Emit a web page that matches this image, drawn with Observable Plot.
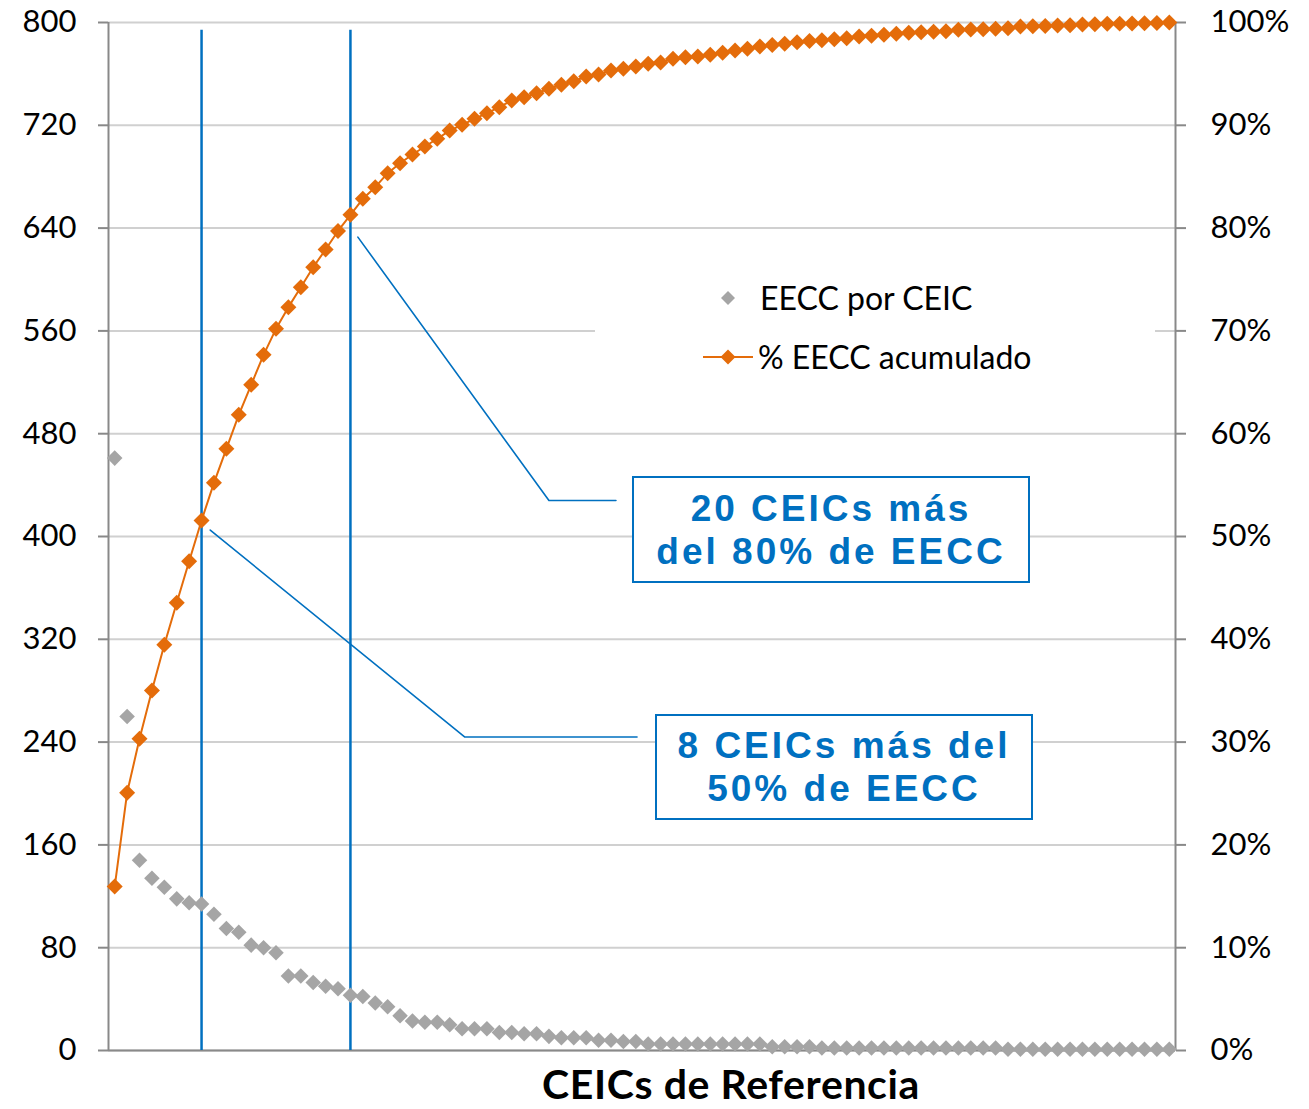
<!DOCTYPE html>
<html><head><meta charset="utf-8">
<script src="https://cdn.jsdelivr.net/npm/d3@7"></script>
<script src="https://cdn.jsdelivr.net/npm/@observablehq/plot@0.6"></script>
<style>
body{margin:0;background:#fff;}
#wrap{position:relative;width:1309px;height:1109px;font-family:Lato,"Open Sans",sans-serif;overflow:hidden;}
#wrap svg{position:absolute;left:0;top:0;}
.box{position:absolute;border:2px solid #0070c0;background:#fff;color:#0070c0;font-family:"Liberation Sans",Arial,sans-serif;font-weight:bold;font-size:37px;letter-spacing:3px;text-align:center;line-height:43px;box-sizing:border-box;display:flex;flex-direction:column;align-items:center;justify-content:center;}
#legend{position:absolute;left:595px;top:262px;width:560px;height:130px;background:#fff;}
.lg{position:absolute;font-size:32px;color:#000;line-height:36px;white-space:nowrap;}
#xtitle{position:absolute;left:281px;width:900px;top:1059px;text-align:center;font-weight:bold;font-size:41px;line-height:49px;letter-spacing:0.6px;color:#000;}
</style></head>
<body><div id="wrap"></div>
<script>
// Categories: CEIC rank 1..86
const ceic = [1,2,3,4,5,6,7,8,9,10,11,12,13,14,15,16,17,18,19,20,21,22,23,24,25,26,27,28,29,30,
  31,32,33,34,35,36,37,38,39,40,41,42,43,44,45,46,47,48,49,50,51,52,53,54,55,56,57,58,59,60,
  61,62,63,64,65,66,67,68,69,70,71,72,73,74,75,76,77,78,79,80,81,82,83,84,85,86];
// EECC por CEIC (left axis)
const eeccPorCeic = [461,260,148,134,127,118,115,114,106,95,
  92,82,80,76,58,58,53,50,48,43,
  42,37,34,27,23,22,22,20,17,17,
  17,14,14,13,13,11,10,10,10,8,
  8,7,7,5,5,5,5,5,5,5,
  5,5,5,3,3,3,3,2,2,2,
  2,2,2,2,2,2,2,2,2,2,
  2,2,1,1,1,1,1,1,1,1,
  1,1,1,1,1,1];
// % EECC acumulado (right axis, percent)
const pctAcumulado = [15.95,25.07,30.32,35.02,39.46,43.55,47.60,51.56,55.22,58.53,
  61.84,64.76,67.67,70.20,72.31,74.25,76.20,77.92,79.72,81.29,
  82.85,83.98,85.34,86.31,87.16,87.94,88.69,89.49,90.05,90.63,
  91.18,91.76,92.41,92.73,93.12,93.55,93.94,94.29,94.75,94.95,
  95.33,95.50,95.72,95.98,96.12,96.47,96.62,96.70,96.86,97.05,
  97.28,97.44,97.67,97.81,97.93,98.09,98.20,98.28,98.36,98.47,
  98.64,98.72,98.80,98.90,99.00,99.06,99.10,99.15,99.29,99.32,
  99.35,99.39,99.45,99.61,99.63,99.66,99.71,99.74,99.81,99.83,
  99.87,99.89,99.91,99.93,99.96,100];
const leftTicks = [0,80,160,240,320,400,480,560,640,720,800];
const rightTickLabels = ["0%","10%","20%","30%","40%","50%","60%","70%","80%","90%","100%"];
const markerCeics = [8, 20];
const legendLabels = ["EECC por CEIC", "% EECC acumulado"];
const note1 = ["20 CEICs más", "del 80% de EECC"];
const note2 = ["8 CEICs más del", "50% de EECC"];
const xTitle = "CEICs de Referencia";
// callout leader lines (data space: CEIC, left-axis value)
const leader1 = [{c:20.6,v:633},{c:36.0,v:428},{c:41.4,v:428}];
const leader2 = [{c:8.7,v:405},{c:29.2,v:244},{c:43.1,v:244}];

const grey = "#a5a5a5", orange = "#e46c0a", blue = "#0070c0", axisGrey = "#898989";
const rows = ceic.map((c,i)=>({c, n: eeccPorCeic[i], p: pctAcumulado[i]*8}));

const chart = Plot.plot({
  width: 1309, height: 1109,
  marginLeft: 108, marginRight: 134, marginTop: 22, marginBottom: 59,
  x: {type: "linear", domain: [0.5, 86.5], axis: null},
  y: {domain: [0, 800], axis: null},
  style: {fontFamily: "Lato, 'Open Sans', sans-serif", fontSize: "31px", color: "#000", background: "#fff", overflow: "visible"},
  marks: [
    Plot.gridY(leftTicks, {stroke: "#d0d0d0", strokeOpacity: 1, strokeWidth: 2}),
    Plot.axisY(leftTicks, {anchor: "left", tickSize: 10, tickPadding: 22, stroke: axisGrey, strokeWidth: 2, fill: "#000", fontSize: 31, label: null, tickFormat: d => String(d)}),
    Plot.axisY(leftTicks, {anchor: "right", tickSize: 10, tickPadding: 25, stroke: axisGrey, strokeWidth: 2, fill: "#000", fontSize: 31, label: null, tickFormat: d => rightTickLabels[leftTicks.indexOf(d)]}),
    Plot.ruleX([0.5, 86.5], {stroke: axisGrey, strokeWidth: 2}),
    Plot.ruleY([0], {stroke: axisGrey, strokeWidth: 2}),
    Plot.ruleX(markerCeics, {y1: 0, y2: 794, stroke: blue, strokeWidth: 2.5}),
    Plot.line(leader1, {x: "c", y: "v", stroke: blue, strokeWidth: 1.6}),
    Plot.line(leader2, {x: "c", y: "v", stroke: blue, strokeWidth: 1.6}),
    Plot.dot(rows, {x: "c", y: "n", symbol: "diamond2", r: 7, fill: grey, stroke: "none"}),
    Plot.line(rows, {x: "c", y: "p", stroke: orange, strokeWidth: 2}),
    Plot.dot(rows, {x: "c", y: "p", symbol: "diamond2", r: 7.2, fill: orange, stroke: "none"})
  ]
});

const wrap = document.getElementById("wrap");
wrap.appendChild(chart);

// legend
const legend = document.createElement("div");
legend.id = "legend";
legend.innerHTML = `
  <svg width="560" height="130" style="position:absolute;left:0;top:0">
    <path d="M133,29 L140,36 L133,43 L126,36 Z" fill="${grey}"/>
    <line x1="108" y1="95" x2="158" y2="95" stroke="${orange}" stroke-width="2"/>
    <path d="M133,87.5 L140.5,95 L133,102.5 L125.5,95 Z" fill="${orange}"/>
  </svg>
  <div class="lg" style="left:165px;top:18px">${legendLabels[0]}</div>
  <div class="lg" style="left:163px;top:77px">${legendLabels[1]}</div>`;
wrap.appendChild(legend);

function box(lines, left, top, w, h){
  const d = document.createElement("div");
  d.className = "box";
  d.style.left = left+"px"; d.style.top = top+"px"; d.style.width = w+"px"; d.style.height = h+"px";
  d.innerHTML = lines.map(l => `<div>${l}</div>`).join("");
  wrap.appendChild(d);
}
box(note1, 632, 476, 398, 107);
box(note2, 655, 714, 378, 106);

const xt = document.createElement("div");
xt.id = "xtitle"; xt.textContent = xTitle;
wrap.appendChild(xt);
</script>
</body></html>
